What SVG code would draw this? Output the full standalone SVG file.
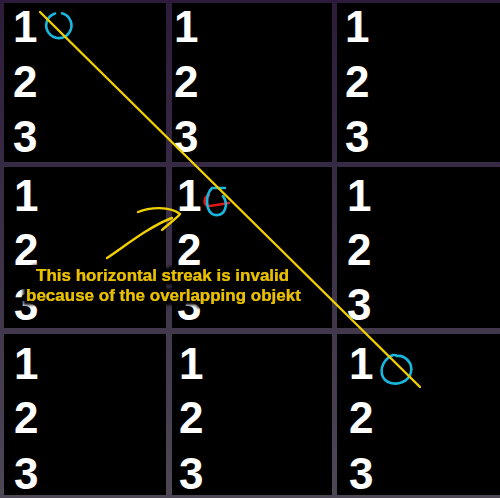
<svg xmlns="http://www.w3.org/2000/svg" width="500" height="498" viewBox="0 0 500 498">
<defs>
<linearGradient id="bg" x1="0" y1="0" x2="0" y2="1">
<stop offset="0" stop-color="#2c1b3a"/>
<stop offset="1" stop-color="#4d4756"/>
</linearGradient>
<filter id="glow" x="-10%" y="-40%" width="120%" height="180%">
<feMorphology in="SourceAlpha" operator="dilate" radius="3.5" result="d"/>
<feGaussianBlur in="d" stdDeviation="1.5" result="b"/>
<feMerge><feMergeNode in="b"/><feMergeNode in="SourceGraphic"/></feMerge>
</filter>
<style>
.cell{fill:#000}
.num{font-family:"Liberation Sans",Arial,sans-serif;font-weight:bold;font-size:44px;fill:#fff}
.note{font-family:"Liberation Sans",Arial,sans-serif;font-weight:bold;font-size:17px;fill:#e8c000}
.blue{fill:none;stroke:#19b6de;stroke-width:2.6;stroke-linecap:round}
.red{fill:none;stroke:#e01818;stroke-width:2.6;stroke-linecap:round}
.ink{fill:none;stroke:#f2d000;stroke-width:2.4;stroke-linecap:round;stroke-linejoin:round}
</style>
</defs>
<rect x="0" y="0" width="500" height="498" fill="url(#bg)"/>
<g id="cell-1-1"><rect class="cell" x="4" y="3" width="162" height="159"/>
<text class="num" x="13" y="42">1</text><text class="num" x="13" y="97">2</text><text class="num" x="13" y="152">3</text></g>
<g id="cell-1-2"><rect class="cell" x="172" y="3" width="160" height="159"/>
<text class="num" x="174" y="42">1</text><text class="num" x="174" y="97">2</text><text class="num" x="174" y="152">3</text></g>
<g id="cell-1-3"><rect class="cell" x="337" y="3" width="163" height="159"/>
<text class="num" x="345" y="42">1</text><text class="num" x="345" y="97">2</text><text class="num" x="345" y="152">3</text></g>
<g id="cell-2-1"><rect class="cell" x="4" y="167" width="162" height="161"/>
<text class="num" x="14" y="211">1</text><text class="num" x="14" y="265">2</text><text class="num" x="14" y="320">3</text></g>
<g id="cell-2-2"><rect class="cell" x="172" y="167" width="160" height="161"/>
<text class="num" x="177" y="211">1</text><text class="num" x="177" y="265">2</text><text class="num" x="177" y="320">3</text></g>
<g id="cell-2-3"><rect class="cell" x="337" y="167" width="163" height="161"/>
<text class="num" x="347" y="211">1</text><text class="num" x="347" y="265">2</text><text class="num" x="347" y="320">3</text></g>
<g id="cell-3-1"><rect class="cell" x="4" y="334" width="162" height="161"/>
<text class="num" x="14" y="379">1</text><text class="num" x="14" y="433">2</text><text class="num" x="14" y="489">3</text></g>
<g id="cell-3-2"><rect class="cell" x="172" y="334" width="160" height="161"/>
<text class="num" x="179" y="379">1</text><text class="num" x="179" y="433">2</text><text class="num" x="179" y="489">3</text></g>
<g id="cell-3-3"><rect class="cell" x="337" y="334" width="163" height="161"/>
<text class="num" x="349" y="379">1</text><text class="num" x="349" y="433">2</text><text class="num" x="349" y="489">3</text></g>
<g id="marks">
<path class="blue" d="M 55 13.5 A 12.6 12.6 0 1 0 62 13.3"/>
<path class="red" d="M 209 195 C 203 198 203 206 210 206 L 229 203"/>
<path class="blue" d="M 225 188 L 212 188 C 205 195 205 213 215 215 C 225 216 229 205 223 196"/>
<path class="blue" d="M 388 358 C 391 355 395 354 397 356 C 405 355 413 363 411 372 C 409 382 397 386 388 382 C 379 377 380 365 388 358"/>
</g>
<g id="connectors">
<line class="ink" x1="40" y1="12" x2="420" y2="387"/>
<path class="ink" d="M 107 258 C 125 246 150 226 172 218"/>
<path class="ink" d="M 138 212 C 150 207 170 206 180 214 C 175 220 167 225 162 230"/>
</g>
<g id="note" filter="url(#glow)">
<text class="note" x="36" y="281">This horizontal streak is invalid</text>
<text class="note" x="26" y="301">because of the overlapping objekt</text>
</g>
</svg>
